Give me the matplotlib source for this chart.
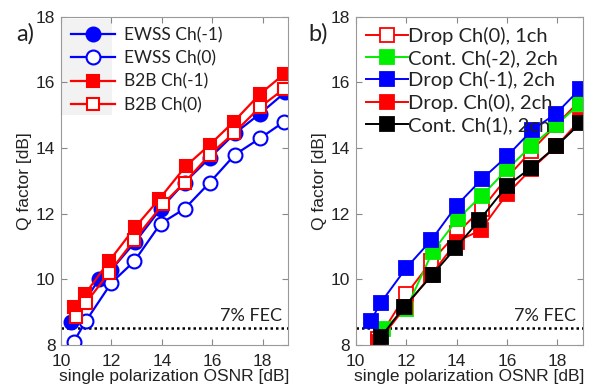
import matplotlib.pyplot as plt
from matplotlib.patches import Rectangle

# panel a) data
ewss_m1_x = [10.4, 11.5, 12, 12.95, 13.95, 14.9, 15.9, 16.9, 17.9, 18.9]
ewss_m1_q = [8.7, 10.0, 10.3, 11.15, 12.15, 12.95, 13.7, 14.45, 15.05, 15.7]
ewss_0_x = [10.5, 11.0, 12, 12.9, 13.95, 14.9, 15.9, 16.9, 17.9, 18.85]
ewss_0_q = [8.1, 8.75, 9.9, 10.55, 11.7, 12.15, 12.95, 13.8, 14.3, 14.8]
b2b_m1_x = [10.5, 10.95, 11.9, 12.95, 13.9, 14.95, 15.9, 16.85, 17.9, 18.85]
b2b_m1_q = [9.15, 9.55, 10.55, 11.6, 12.45, 13.45, 14.1, 14.8, 15.65, 16.25]
b2b_0_x = [10.6, 11.0, 11.9, 12.9, 14.05, 14.9, 15.9, 16.85, 17.9, 18.85]
b2b_0_q = [8.85, 9.3, 10.2, 11.2, 12.3, 12.95, 13.8, 14.45, 15.25, 15.8]

# panel b) data
drop0_1ch_x = [10.9, 12, 13, 14, 15, 16, 16.95, 17.95, 18.9]
drop0_1ch_q = [8.2, 9.55, 10.55, 11.4, 12.15, 13.1, 13.9, 14.7, 15.45]
cont_m2_x = [11.1, 12, 13.05, 14.05, 15, 16, 16.95, 17.95, 18.9]
cont_m2_q = [8.5, 9.1, 10.85, 11.85, 12.55, 13.35, 14.05, 14.7, 15.35]
drop_m1_x = [10.6, 11.0, 12, 13, 14, 15, 16, 17, 17.95, 18.9]
drop_m1_q = [8.75, 9.3, 10.35, 11.2, 12.25, 13.05, 13.75, 14.55, 15.05, 15.8]
drop0_2ch_x = [10.9, 11.95, 13, 14, 14.95, 16, 16.95, 17.95, 18.9]
drop0_2ch_q = [8.1, 9.15, 10.15, 11.15, 11.5, 12.6, 13.35, 14.05, 14.85]
cont_1_x = [11.0, 11.9, 13.05, 13.95, 14.9, 16, 16.95, 17.95, 18.9]
cont_1_q = [8.25, 9.15, 10.15, 10.95, 11.8, 12.85, 13.4, 14.05, 14.75]

fec = 8.53
xticks = [10, 12, 14, 16, 18]
yticks = [8, 10, 12, 14, 16, 18]

tick_font = 'Liberation Sans'
leg_font = 'Lato'

fig = plt.figure(figsize=(5.91, 3.89), dpi=100)
ax1 = fig.add_axes([0.1032, 0.1125, 0.384, 0.845])
ax2 = fig.add_axes([0.6019, 0.1125, 0.384, 0.845])

blue = '#0000ff'
red = '#ff0000'
green = '#00ee00'

ax1.plot(ewss_m1_x, ewss_m1_q, '-o', color=blue, lw=1.6, ms=10, mew=1.5,
         mfc=blue, label='EWSS Ch(-1)')
ax1.plot(ewss_0_x, ewss_0_q, '-o', color=blue, lw=1.6, ms=10, mew=1.5,
         mfc='white', label='EWSS Ch(0)')
ax1.plot(b2b_m1_x, b2b_m1_q, '-s', color=red, lw=1.6, ms=9, mew=1.5,
         mfc=red, label='B2B Ch(-1)')
ax1.plot(b2b_0_x, b2b_0_q, '-s', color=red, lw=1.6, ms=9, mew=1.5,
         mfc='white', label='B2B Ch(0)')

ax2.plot(drop0_1ch_x, drop0_1ch_q, '-s', color=red, lw=1.4, ms=9.5, mew=1.3,
         mfc='white', label='Drop Ch(0), 1ch')
ax2.plot(cont_m2_x, cont_m2_q, '-s', color=green, lw=1.4, ms=9.5, mew=1.3,
         mfc=green, label='Cont. Ch(-2), 2ch')
ax2.plot(drop_m1_x, drop_m1_q, '-s', color=blue, lw=1.4, ms=9.5, mew=1.3,
         mfc=blue, label='Drop Ch(-1), 2ch')
ax2.plot(drop0_2ch_x, drop0_2ch_q, '-s', color=red, lw=1.4, ms=9.5, mew=1.3,
         mfc=red, label='Drop. Ch(0), 2ch')
ax2.plot(cont_1_x, cont_1_q, '-s', color='black', lw=1.4, ms=9.5, mew=1.3,
         mfc='black', label='Cont. Ch(1), 2ch')

for ax in (ax1, ax2):
    ax.axhline(fec, color='black', lw=1.8, ls=(0, (1, 1.2)), zorder=1)
    ax.text(18.75, fec + 0.12, '7% FEC', ha='right', va='bottom',
            fontsize=13, family=leg_font, color='#222222')
    ax.set_xlim(10, 19)
    ax.set_ylim(8, 18)
    ax.set_xticks(xticks)
    ax.set_yticks(yticks)
    ax.tick_params(direction='in', top=True, right=True, length=4,
                   color='#888888', labelsize=12.5, labelcolor='#222222')
    ax.tick_params(axis='x', pad=6)
    ax.tick_params(axis='y', pad=4)
    for lab in ax.get_xticklabels() + ax.get_yticklabels():
        lab.set_family(tick_font)
    for s in ax.spines.values():
        s.set_color('#999999')
        s.set_linewidth(0.8)
    ax.set_xlabel('single polarization OSNR [dB]', fontsize=12.5,
                  family=tick_font, color='#222222', labelpad=0)
    ax.set_ylabel('Q factor [dB]', fontsize=12.5, family=tick_font,
                  color='#222222', labelpad=3)

# grey box behind the legend handles (as in the original export)
ax1.add_patch(Rectangle((0.005, 0.7), 0.22, 0.293, transform=ax1.transAxes,
                        facecolor='#f2f2f2', edgecolor='none', zorder=0.5))

leg1 = ax1.legend(loc='upper left', frameon=False, handlelength=2.5,
                  handletextpad=0.55, borderaxespad=0.2, labelspacing=0.42,
                  prop={'family': leg_font, 'size': 12.5})
leg2 = ax2.legend(loc='upper left', frameon=False, handlelength=2.1,
                  handletextpad=0.0, borderaxespad=0.1, labelspacing=0.22,
                  prop={'family': leg_font, 'size': 14.5})
for leg in (leg1, leg2):
    for t in leg.get_texts():
        t.set_color('#222222')

fig.text(0.042, 0.912, 'a)', fontsize=17, family=leg_font, color='#222222',
         ha='center', va='center')
fig.text(0.539, 0.912, 'b)', fontsize=17, family=leg_font, color='#222222',
         ha='center', va='center')

fig.savefig('out.png', dpi=100)
